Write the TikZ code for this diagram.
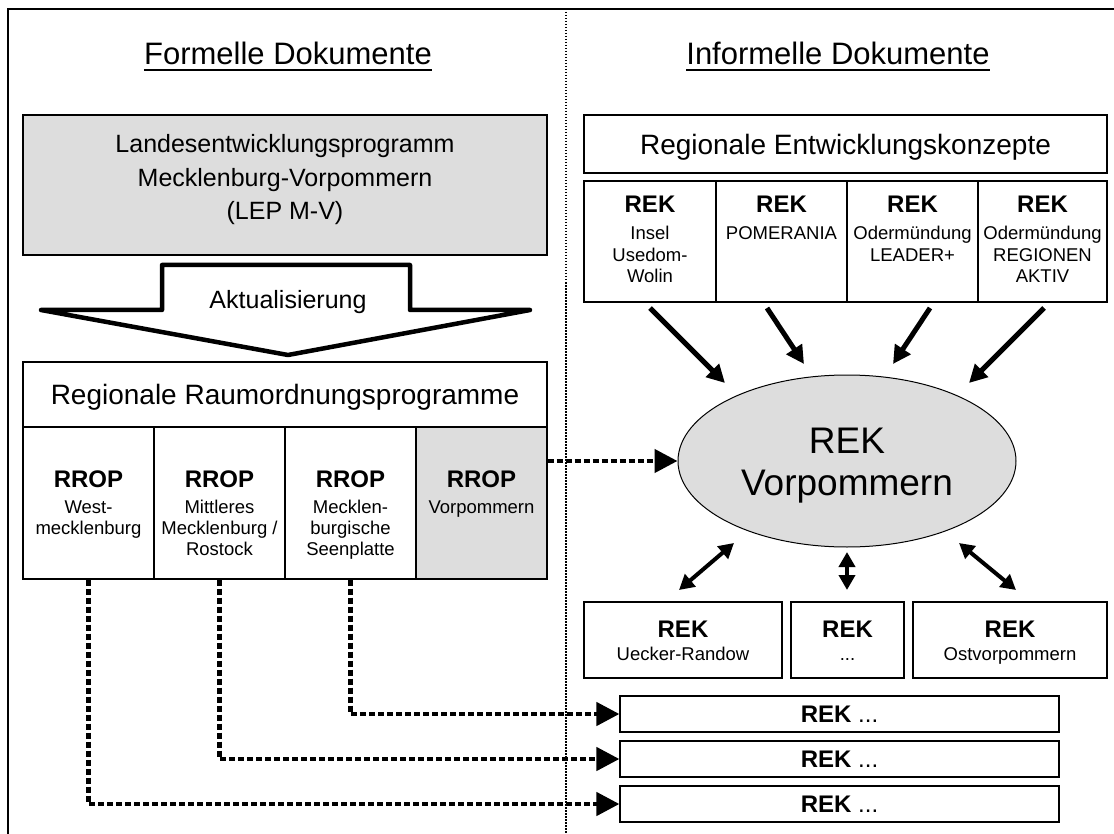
\documentclass[tikz,border=0pt]{standalone}
\usepackage{fontspec}
\setmainfont{Liberation Sans}
\usetikzlibrary{arrows.meta,shapes.geometric,calc}
\definecolor{boxgray}{HTML}{DDDDDD}
\begin{document}
\begin{tikzpicture}[x=1pt,y=-1pt,
  box/.style={draw=black, line width=1.2pt, rectangle, inner sep=0pt, fill=white},
  gbox/.style={box, fill=boxgray},
  tx/.style={anchor=base, inner sep=0pt},
  ttl/.style={tx, font=\fontsize{31}{36}\selectfont},
  big/.style={tx, font=\fontsize{28}{33}\selectfont},
  mid/.style={tx, font=\fontsize{25}{30}\selectfont},
  hd/.style={tx, font=\fontsize{24}{28}\selectfont\bfseries},
  sm/.style={tx, font=\fontsize{18.5}{22}\selectfont},
  arr/.style={line width=5pt, -{Triangle[length=18pt,width=18pt]}},
  darr/.style={line width=4pt, {Triangle[length=15pt,width=16pt]}-{Triangle[length=15pt,width=16pt]}},
  dotarr/.style={line width=4.5pt, dash pattern=on 6pt off 3pt, -{Triangle[length=23pt,width=23pt]}}
]
\useasboundingbox (0,0) rectangle (1114,834);
\fill[white] (0,0) rectangle (1114,834);
% frame and divider
\draw[line width=1.5pt] (8,834) -- (8,9) -- (1114,9);
\draw[line width=1.2pt, dash pattern=on 1.5pt off 1.5pt] (566,9) -- (566,834);
% titles
\node[ttl] (tl) at (288,65) {Formelle Dokumente};
\draw[line width=2.3pt] ($(tl.base west)+(0,5)$) -- ($(tl.base east)+(0,5)$);
\node[ttl] (tr) at (838,65) {Informelle Dokumente};
\draw[line width=2.3pt] ($(tr.base west)+(0,5)$) -- ($(tr.base east)+(0,5)$);
% LEP
\node[gbox, minimum width=524pt, minimum height=140pt] (lep) at (285,185) {};
\node[mid] (lep1) at (285,153) {Landesentwicklungsprogramm};
\node[mid] (lep2) at (285,187) {Mecklenburg-Vorpommern};
\node[mid] (lep3) at (285,220) {(LEP M-V)};
% Aktualisierung arrow
\draw[line width=4.5pt, line join=round, fill=white]
  (162,265) -- (410,265) -- (410,310) -- (530,310) -- (288,355) -- (41,310) -- (162,310) -- cycle;
\node[mid] (akt) at (288,309) {Aktualisierung};
% RRP
\node[box, minimum width=524pt, minimum height=65pt] (rrp) at (285,394.5) {};
\node[big] (rrpt) at (285,404) {Regionale Raumordnungsprogramme};
\node[box, minimum width=131pt, minimum height=152pt] (c1) at (88.5,503) {};
\node[box, minimum width=131pt, minimum height=152pt] (c2) at (219.5,503) {};
\node[box, minimum width=131pt, minimum height=152pt] (c3) at (350.5,503) {};
\node[gbox, minimum width=131pt, minimum height=152pt] (c4) at (481.5,503) {};
\node[hd] (c1h) at (88.5,487) {RROP};
\node[sm] (c1a) at (88.5,513) {West-};
\node[sm] (c1b) at (88.5,534) {mecklenburg};
\node[hd] (c2h) at (219.5,487) {RROP};
\node[sm] (c2a) at (219.5,513) {Mittleres};
\node[sm] (c2b) at (219.5,534) {Mecklenburg /};
\node[sm] (c2c) at (219.5,555) {Rostock};
\node[hd] (c3h) at (350.5,487) {RROP};
\node[sm] (c3a) at (350.5,513) {Mecklen-};
\node[sm] (c3b) at (350.5,534) {burgische};
\node[sm] (c3c) at (350.5,555) {Seenplatte};
\node[hd] (c4h) at (481.5,487) {RROP};
\node[sm] (c4a) at (481.5,513) {Vorpommern};
% REK top
\node[box, minimum width=523pt, minimum height=58pt] (rec) at (845.5,144) {};
\node[big] (rect) at (845.5,155) {Regionale Entwicklungskonzepte};
\node[box, minimum width=132pt, minimum height=121pt] (r1) at (650,241.5) {};
\node[box, minimum width=131pt, minimum height=121pt] (r2) at (781.5,241.5) {};
\node[box, minimum width=131pt, minimum height=121pt] (r3) at (912.5,241.5) {};
\node[box, minimum width=129pt, minimum height=121pt] (r4) at (1042.5,241.5) {};
\node[hd] (r1h) at (650,213) {REK};
\node[sm] (r1a) at (650,240) {Insel};
\node[sm] (r1b) at (650,262) {Usedom-};
\node[sm] (r1c) at (650,283) {Wolin};
\node[hd] (r2h) at (781.5,213) {REK};
\node[sm] (r2a) at (781.5,240) {POMERANIA};
\node[hd] (r3h) at (912.5,213) {REK};
\node[sm] (r3a) at (912.5,240) {Odermündung};
\node[sm] (r3b) at (912.5,262) {LEADER+};
\node[hd] (r4h) at (1042.5,213) {REK};
\node[sm] (r4a) at (1042.5,240) {Odermündung};
\node[sm] (r4b) at (1042.5,262) {REGIONEN};
\node[sm] (r4c) at (1042.5,283) {AKTIV};
% ellipse
\node[ellipse, draw=black, line width=1pt, fill=boxgray, minimum width=338pt, minimum height=172pt, inner sep=0pt] (ell) at (847,461) {};
\node[tx, font=\fontsize{37}{42}\selectfont] (e1) at (847,453) {REK};
\node[tx, font=\fontsize{37}{42}\selectfont] (e2) at (847,495) {Vorpommern};
% bottom REK row
\node[box, minimum width=198pt, minimum height=76pt] (b1) at (683,640) {};
\node[box, minimum width=113pt, minimum height=76pt] (b2) at (847.5,640) {};
\node[box, minimum width=194pt, minimum height=76pt] (b3) at (1010,640) {};
\node[hd] (b1h) at (683,637) {REK};
\node[sm] (b1a) at (683,660) {Uecker-Randow};
\node[hd] (b2h) at (847.5,637) {REK};
\node[sm] (b2a) at (847.5,660) {...};
\node[hd] (b3h) at (1010,637) {REK};
\node[sm] (b3a) at (1010,660) {Ostvorpommern};
% REK ... boxes
\node[box, minimum width=439pt, minimum height=36pt] (k1) at (839.5,714) {};
\node[box, minimum width=439pt, minimum height=36pt] (k2) at (839.5,759) {};
\node[box, minimum width=439pt, minimum height=36pt] (k3) at (839.5,804) {};
\node[tx, font=\fontsize{24}{28}\selectfont] (k1t) at (839.5,722.5) {\textbf{REK} ...};
\node[tx, font=\fontsize{24}{28}\selectfont] (k2t) at (839.5,767.5) {\textbf{REK} ...};
\node[tx, font=\fontsize{24}{28}\selectfont] (k3t) at (839.5,812.5) {\textbf{REK} ...};
% arrows into ellipse
\coordinate (a1s) at (650,308); \coordinate (a1e) at (725,383);
\coordinate (a2s) at (767,308); \coordinate (a2e) at (804,364);
\coordinate (a3s) at (930,308); \coordinate (a3e) at (893,364);
\coordinate (a4s) at (1044,308); \coordinate (a4e) at (969,383);
\draw[arr] (a1s) -- (a1e);
\draw[arr] (a2s) -- (a2e);
\draw[arr] (a3s) -- (a3e);
\draw[arr] (a4s) -- (a4e);
% double arrows
\coordinate (d1s) at (734,543); \coordinate (d1e) at (679,590);
\coordinate (d2s) at (847,552); \coordinate (d2e) at (847,590);
\coordinate (d3s) at (959,543); \coordinate (d3e) at (1016,590);
\draw[darr] (d1s) -- (d1e);
\draw[darr] (d2s) -- (d2e);
\draw[darr] (d3s) -- (d3e);
% dotted connectors
\draw[dotarr] (c4.east |- ell.west) -- (ell.west);
\draw[dotarr] (c3.south) |- (k1.west);
\draw[dotarr] (c2.south) |- (k2.west);
\draw[dotarr] (c1.south) |- (k3.west);
\end{tikzpicture}
\end{document}
